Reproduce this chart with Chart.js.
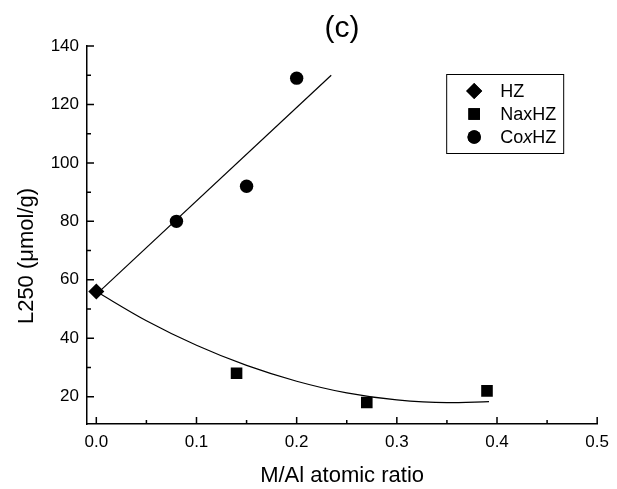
<!DOCTYPE html>
<html>
<head>
<meta charset="utf-8">
<script src="https://cdn.jsdelivr.net/npm/chart.js@4/dist/chart.umd.min.js"></script>
<style>
  html, body { margin: 0; padding: 0; background: #fff; }
  #wrap { width: 617px; height: 489px; }
</style>
</head>
<body>
<div id="wrap"><canvas id="ratioChart"></canvas></div>
<script>
// measured L250 values against M/Al ratio
const hzX = [0];
const hzY = [56];
const naX = [0.14, 0.27, 0.39];
const naY = [28, 18, 22];
const coX = [0.08, 0.15, 0.2];
const coY = [80, 92, 129];

// fitted trend lines, points taken along the drawn curves
const coFitX = [0, 0.2345];
const coFitY = [55, 130];
const naFitX = [0, 0.05, 0.1, 0.15, 0.2, 0.25, 0.3, 0.35, 0.392];
const naFitY = [56, 46, 37.6, 30.7, 25.3, 21.3, 18.9, 18, 18.3];

const xTicks = [0, 0.1, 0.2, 0.3, 0.4, 0.5];
const yTicks = [20, 40, 60, 80, 100, 120, 140];

const chartTitle = '(c)';
const xTitle = 'M/Al atomic ratio';
const yTitle = 'L250 (\u03bcmol/g)';

const FONT = "'Liberation Sans', Arial, sans-serif";

const pts = (xs, ys) => xs.map((x, i) => ({ x: x, y: ys[i] }));

// legend text runs, second value = italic
const legendRuns = [
  [['HZ', false]],
  [['NaxHZ', false]],
  [['Co', false], ['x', true], ['HZ', false]]
];

// tick marks drawn inside the plot, majors plus one minor between each pair
const inwardTicks = {
  id: 'inwardTicks',
  afterDatasetsDraw(chart) {
    const { ctx, chartArea: a, scales: { x, y } } = chart;
    const mids = t => t.slice(1).map((v, i) => (v + t[i]) / 2);
    ctx.save();
    ctx.strokeStyle = '#000';
    ctx.lineWidth = 1.5;
    ctx.beginPath();
    xTicks.forEach(v => { const p = x.getPixelForValue(v); ctx.moveTo(p, a.bottom); ctx.lineTo(p, a.bottom - 7); });
    mids(xTicks).forEach(v => { const p = x.getPixelForValue(v); ctx.moveTo(p, a.bottom); ctx.lineTo(p, a.bottom - 4); });
    yTicks.forEach(v => { const p = y.getPixelForValue(v); ctx.moveTo(a.left, p); ctx.lineTo(a.left + 7, p); });
    mids([0].concat(yTicks)).slice(1).forEach(v => { const p = y.getPixelForValue(v); ctx.moveTo(a.left, p); ctx.lineTo(a.left + 4, p); });
    ctx.stroke();
    ctx.restore();
  }
};

// panel label centred over the plot, and the rotated y title
const panelText = {
  id: 'panelText',
  afterDraw(chart) {
    const { ctx, chartArea: a } = chart;
    ctx.save();
    ctx.fillStyle = '#000';
    ctx.textAlign = 'center';
    ctx.textBaseline = 'middle';
    ctx.font = '30px ' + FONT;
    ctx.fillText(chartTitle, (a.left + a.right) / 2, 29);
    ctx.translate(33, (a.top + a.bottom) / 2 + 21);
    ctx.rotate(-Math.PI / 2);
    ctx.textBaseline = 'alphabetic';
    ctx.font = '22px ' + FONT;
    ctx.fillText(yTitle, 0, 0);
    ctx.restore();
  }
};

// boxed legend in the upper right of the plot
const boxLegend = {
  id: 'boxLegend',
  afterDraw(chart) {
    const { ctx, chartArea: a } = chart;
    const bx = a.right - 151, by = a.top + 28, bw = 117, bh = 79;
    ctx.save();
    ctx.strokeStyle = '#000';
    ctx.lineWidth = 1;
    ctx.strokeRect(bx + 0.5, by + 0.5, bw, bh);
    const marked = chart.data.datasets.slice(2);
    marked.forEach((ds, i) => {
      const cy = by + 17 + i * 23;
      ctx.fillStyle = '#000';
      Chart.helpers.drawPoint(ctx, {
        pointStyle: ds.pointStyle, radius: ds.pointRadius, rotation: 0, borderWidth: 0
      }, bx + 28, cy);
      ctx.fill();
      let tx = bx + 54;
      ctx.textBaseline = 'middle';
      legendRuns[i].forEach(([s, it]) => {
        ctx.font = (it ? 'italic ' : '') + '18px ' + FONT;
        ctx.fillText(s, tx, cy + 1);
        tx += ctx.measureText(s).width;
      });
    });
    ctx.restore();
  }
};

const axisFont = { family: FONT, size: 17 };

new Chart(document.getElementById('ratioChart'), {
  type: 'scatter',
  data: {
    datasets: [
      { label: 'Co fit', data: pts(coFitX, coFitY), showLine: true, pointRadius: 0,
        borderColor: '#000', borderWidth: 1.2 },
      { label: 'Na fit', data: pts(naFitX, naFitY), showLine: true, pointRadius: 0,
        borderColor: '#000', borderWidth: 1.2, cubicInterpolationMode: 'monotone' },
      { label: 'HZ', data: pts(hzX, hzY), pointStyle: 'rectRot', pointRadius: 8,
        backgroundColor: '#000', borderColor: '#000', borderWidth: 0 },
      { label: 'NaxHZ', data: pts(naX, naY), pointStyle: 'rect', pointRadius: 8.2,
        backgroundColor: '#000', borderColor: '#000', borderWidth: 0 },
      { label: 'CoxHZ', data: pts(coX, coY), pointStyle: 'circle', pointRadius: 6.7,
        backgroundColor: '#000', borderColor: '#000', borderWidth: 0 }
    ]
  },
  options: {
    responsive: true,
    maintainAspectRatio: false,
    animation: false,
    layout: { padding: { left: 0, right: 13, top: 46, bottom: 0 } },
    plugins: {
      legend: { display: false },
      tooltip: { enabled: false },
      title: { display: false }
    },
    scales: {
      x: {
        type: 'linear',
        min: -0.0093,
        max: 0.5,
        afterBuildTicks: s => { s.ticks = xTicks.map(v => ({ value: v })); },
        afterFit: s => { s.height = 65; },
        grid: { display: false, drawTicks: false },
        border: { display: true, color: '#000', width: 1.5 },
        ticks: { color: '#000', font: axisFont, padding: 8, maxRotation: 0,
          callback: v => v.toFixed(1) },
        title: { display: true, text: xTitle, color: '#000',
          font: { family: FONT, size: 22 }, padding: { top: 0, bottom: 0 } }
      },
      y: {
        type: 'linear',
        min: 10.66,
        max: 140,
        afterBuildTicks: s => { s.ticks = yTicks.map(v => ({ value: v })); },
        afterFit: s => { s.width = 87; },
        grid: { display: false, drawTicks: false },
        border: { display: true, color: '#000', width: 1.5 },
        ticks: { color: '#000', font: axisFont, padding: 8 },
        title: { display: false }
      }
    }
  },
  plugins: [inwardTicks, panelText, boxLegend]
});
</script>
</body>
</html>
